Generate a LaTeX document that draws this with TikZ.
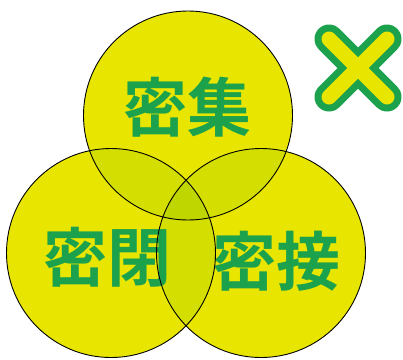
\documentclass[tikz,border=0pt]{standalone}
\usepackage{fontspec}
\newfontfamily\cjk{Noto Sans CJK JP}[BoldFont={Noto Sans CJK JP Bold}]
\definecolor{vennyellow}{RGB}{232,230,0}
\definecolor{venntwo}{RGB}{212,222,0}
\definecolor{vennthree}{RGB}{192,214,0}
\definecolor{marugreen}{RGB}{28,162,76}

\begin{document}
\begin{tikzpicture}[x=1pt,y=-1pt,
    circ/.style={circle,minimum size=209pt,inner sep=0pt},
    word/.style={font=\cjk\bfseries\fontsize{64}{64}\selectfont,text=marugreen,inner sep=0pt},
    rim/.style={draw=black,line width=0.9pt}]
  \useasboundingbox (0,0) rectangle (403,359);

  % the three circles
  \node[circ,fill=vennyellow] (shuu) at (188,115.5) {};
  \node[circ,fill=vennyellow] (hei) at (111,253) {};
  \node[circ,fill=vennyellow] (setsu) at (261,253) {};

  % overlaps
  \begin{scope}
    \clip (shuu.center) circle (104.5);
    \fill[venntwo] (hei.center) circle (104.5);
    \fill[venntwo] (setsu.center) circle (104.5);
  \end{scope}
  \begin{scope}
    \clip (hei.center) circle (104.5);
    \fill[venntwo] (setsu.center) circle (104.5);
    \clip (setsu.center) circle (104.5);
    \fill[vennthree] (shuu.center) circle (104.5);
  \end{scope}

  \node[word] (tshuu) at (187,107) {密集};
  \node[word] (thei) at (107,257) {密閉};
  \node[word] (tsetsu) at (276,261) {密接};

  \draw[rim] (shuu.center) circle (104.5);
  \draw[rim] (hei.center) circle (104.5);
  \draw[rim] (setsu.center) circle (104.5);

  % the cross
  \coordinate (xa) at (329,39);
  \coordinate (xb) at (387,97);
  \coordinate (xc) at (387,39);
  \coordinate (xd) at (329,97);
  \draw[marugreen,line width=29pt,line cap=round] (xa) -- (xb) (xc) -- (xd);
  \draw[vennyellow,line width=15pt,line cap=round] (xa) -- (xb) (xc) -- (xd);
\end{tikzpicture}
\end{document}
